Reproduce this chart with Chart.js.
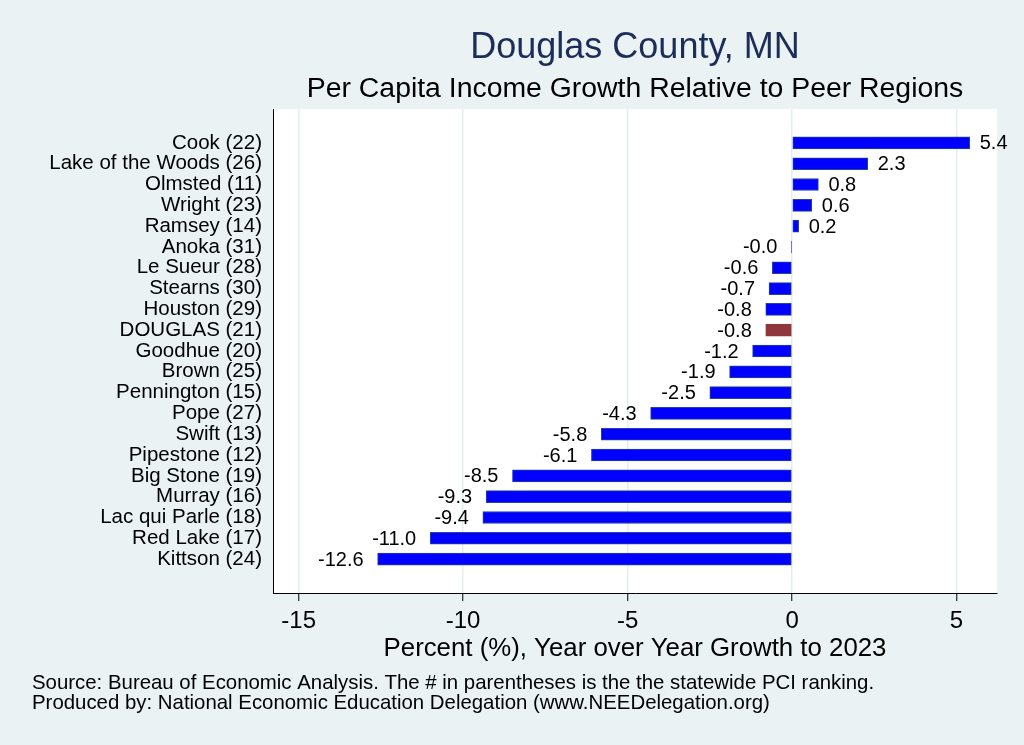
<!DOCTYPE html>
<html>
<head>
<meta charset="utf-8">
<script src="https://cdn.jsdelivr.net/npm/chart.js@4/dist/chart.umd.min.js"></script>
<style>
  html, body { margin: 0; padding: 0; background: #eaf2f3; }
  #wrap { width: 1024px; height: 745px; }
</style>
</head>
<body>
<div id="wrap"><canvas id="c"></canvas></div>
<script>
// categories (statewide PCI rank in parentheses), top to bottom
const counties = [
  "Cook (22)", "Lake of the Woods (26)", "Olmsted (11)", "Wright (23)", "Ramsey (14)",
  "Anoka (31)", "Le Sueur (28)", "Stearns (30)", "Houston (29)", "DOUGLAS (21)",
  "Goodhue (20)", "Brown (25)", "Pennington (15)", "Pope (27)", "Swift (13)",
  "Pipestone (12)", "Big Stone (19)", "Murray (16)", "Lac qui Parle (18)",
  "Red Lake (17)", "Kittson (24)"
];
// year over year growth to 2023, percent
const growth = [
  5.4, 2.3, 0.8, 0.6, 0.2,
  -0.02, -0.6, -0.7, -0.8, -0.8,
  -1.2, -1.9, -2.5, -4.3, -5.8,
  -6.1, -8.5, -9.3, -9.4,
  -11.0, -12.6
];
const highlight = "DOUGLAS (21)";
const xTicks = [-15, -10, -5, 0, 5];

const FONT = "'Liberation Sans', Arial, Helvetica, sans-serif";
const BG = "#eaf2f3";

const barColors = counties.map(c => c === highlight ? "#90353b" : "#0000ff");
const edgeColors = counties.map(c => c === highlight ? "#90353b" : "#25449a");

// page background + white plot region
const backdrop = {
  id: 'backdrop',
  beforeDraw(chart) {
    const { ctx, chartArea: a } = chart;
    ctx.save();
    ctx.fillStyle = BG;
    ctx.fillRect(0, 0, chart.width, chart.height);
    ctx.fillStyle = "#ffffff";
    ctx.fillRect(a.left, a.top, a.right - a.left, a.bottom - a.top);
    ctx.restore();
  }
};

// value labels at bar ends
const barLabels = {
  id: 'barLabels',
  afterDatasetsDraw(chart) {
    const { ctx } = chart;
    const meta = chart.getDatasetMeta(0);
    ctx.save();
    ctx.font = "20px " + FONT;
    ctx.fillStyle = "#000";
    ctx.textBaseline = "middle";
    meta.data.forEach((bar, i) => {
      const v = growth[i];
      const txt = v.toFixed(1);
      if (v >= 0) {
        ctx.textAlign = "left";
        ctx.fillText(txt, bar.x + 10, bar.y + 1);
      } else {
        ctx.textAlign = "right";
        ctx.fillText(txt, bar.x - 14, bar.y + 1);
      }
    });
    ctx.restore();
  }
};

// titles and notes
const texts = {
  id: 'texts',
  afterDraw(chart) {
    const { ctx, chartArea: a } = chart;
    const cx = (a.left + a.right) / 2;
    ctx.save();
    ctx.textAlign = "center";
    ctx.textBaseline = "middle";
    ctx.fillStyle = "#1c2d5a";
    ctx.font = "36px " + FONT;
    ctx.fillText("Douglas County, MN", cx, 48);
    ctx.fillStyle = "#000";
    ctx.font = "28.4px " + FONT;
    ctx.fillText("Per Capita Income Growth Relative to Peer Regions", cx, 89);
    ctx.textAlign = "left";
    ctx.font = "20.4px " + FONT;
    ctx.fillText("Source: Bureau of Economic Analysis. The # in parentheses is the the statewide PCI ranking.", 32, 683);
    ctx.fillText("Produced by: National Economic Education Delegation (www.NEEDelegation.org)", 32, 703);
    ctx.restore();
  }
};

new Chart(document.getElementById('c'), {
  type: 'bar',
  data: {
    datasets: [{
      data: growth.map((v, i) => ({ x: v, y: i })),
      backgroundColor: barColors,
      borderColor: edgeColors,
      borderWidth: 1,
      borderSkipped: false,
      barThickness: 12
    }]
  },
  options: {
    indexAxis: 'y',
    responsive: true,
    maintainAspectRatio: false,
    animation: false,
    layout: { padding: { top: 109, right: 27, bottom: 0, left: 0 } },
    scales: {
      x: {
        type: 'linear',
        min: -15.78,
        max: 6.23,
        afterBuildTicks: s => { s.ticks = xTicks.map(v => ({ value: v })); },
        afterFit: s => { s.height = 152; },
        grid: { color: "#e4edf0", lineWidth: 1.5, tickColor: "#000", tickLength: 8, tickWidth: 1 },
        border: { color: "#000", width: 1 },
        ticks: { color: "#000", font: { family: FONT, size: 24 }, padding: 6 },
        title: {
          display: true,
          text: "Percent (%), Year over Year Growth to 2023",
          color: "#000",
          font: { family: FONT, size: 25.8 },
          padding: { top: 0, bottom: 81 }
        }
      },
      y: {
        type: 'linear',
        reverse: true,
        offset: false,
        min: -1.63,
        max: 21.63,
        afterBuildTicks: s => { s.ticks = counties.map((c, i) => ({ value: i })); },
        afterFit: s => { s.width = 273; },
        grid: { display: false, drawTicks: false },
        border: { color: "#000", width: 1 },
        ticks: {
          color: "#000",
          font: { family: FONT, size: 20.5 },
          padding: 11,
          autoSkip: false,
          callback: v => counties[v]
        }
      }
    },
    plugins: {
      legend: { display: false },
      tooltip: { enabled: false }
    }
  },
  plugins: [backdrop, barLabels, texts]
});
</script>
</body>
</html>
